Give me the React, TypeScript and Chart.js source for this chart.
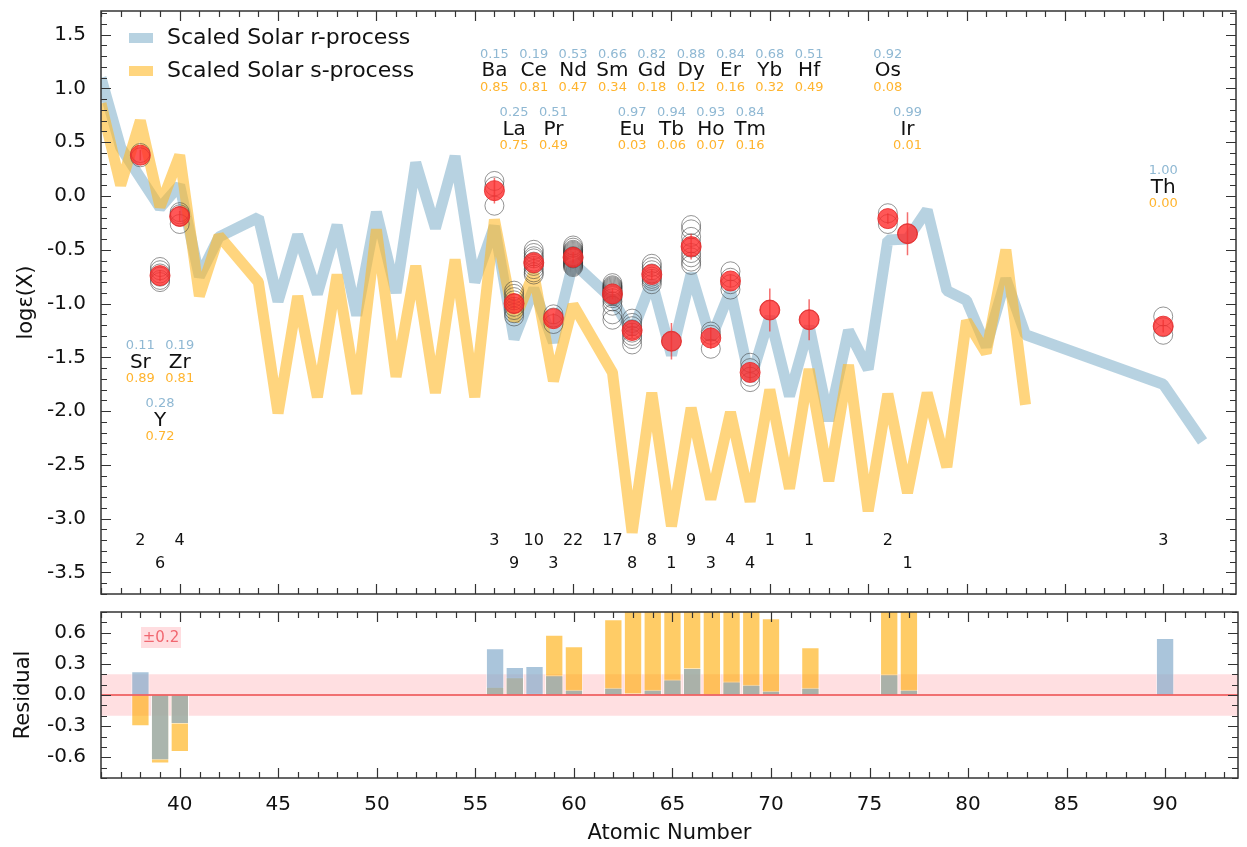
import React, { useEffect, useRef } from 'react';
import { Chart, registerables } from 'chart.js';
Chart.register(...registerables);

const FONT = "'DejaVu Sans', Verdana, sans-serif";

// ---------- data ----------
// Scaled solar r-process curve
const rZ = [36,37,38,39,40,41,42,44,45,46,47,48,49,50,51,52,53,54,55,56,57,58,59,60,62,63,64,65,66,67,68,69,70,71,72,73,74,75,76,77,78,79,80,81,82,83,90,92];
const rVal = [1.10,0.45,0.17,-0.11,0.10,-0.75,-0.38,-0.20,-0.98,-0.36,-0.91,-0.27,-1.11,-0.15,-0.90,0.31,-0.30,0.37,-0.80,-0.28,-1.33,-0.86,-1.36,-0.62,-0.96,-1.27,-0.79,-1.48,-0.72,-1.33,-0.88,-1.72,-1.12,-1.86,-1.21,-2.09,-1.25,-1.61,-0.41,-0.40,-0.13,-0.88,-0.97,-1.40,-0.77,-1.29,-1.75,-2.28];

// Scaled solar s-process curve
const sZ = [36,37,38,39,40,41,42,44,45,46,47,48,49,50,51,52,53,54,55,56,57,58,59,60,62,63,64,65,66,67,68,69,70,71,72,73,74,75,76,77,78,79,80,81,82,83];
const sVal = [0.86,0.10,0.70,-0.10,0.38,-0.93,-0.37,-0.80,-2.02,-0.93,-1.87,-0.73,-1.84,-0.31,-1.68,-0.65,-1.83,-0.59,-1.87,-0.22,-1.16,-0.72,-1.72,-1.01,-1.64,-3.13,-1.83,-3.07,-1.97,-2.82,-2.01,-2.84,-1.80,-2.72,-1.61,-2.65,-1.57,-2.93,-1.84,-2.76,-1.83,-2.52,-1.16,-1.46,-0.50,-1.94];

// Observed abundances
const elements = ['Sr','Y','Zr','Ba','La','Ce','Pr','Nd','Sm','Eu','Gd','Tb','Dy','Ho','Er','Tm','Yb','Hf','Os','Ir','Th'];
const obsZ = [38,39,40,56,57,58,59,60,62,63,64,65,66,67,68,69,70,72,76,77,90];
const obsVal = [0.38,-0.74,-0.19,0.05,-1.00,-0.62,-1.14,-0.57,-0.91,-1.25,-0.73,-1.35,-0.47,-1.32,-0.79,-1.64,-1.06,-1.15,-0.21,-0.35,-1.21];
const obsErr = [0.05,0.05,0.05,0.12,0.06,0.05,0.05,0.05,0.05,0.07,0.05,0.17,0.12,0.10,0.06,0.08,0.20,0.19,0.05,0.20,0.06];
const nLines = [2,6,4,3,9,10,3,22,17,8,8,1,9,3,4,4,1,1,2,1,3];

// Individual line abundances
const lineAbund = [
  [0.36,0.40],
  [-0.66,-0.69,-0.72,-0.75,-0.78,-0.80],
  [-0.15,-0.17,-0.19,-0.26],
  [0.14,0.09,-0.09],
  [-0.88,-0.91,-0.94,-0.97,-1.00,-1.03,-1.06,-1.09,-1.12],
  [-0.50,-0.53,-0.56,-0.58,-0.61,-0.63,-0.65,-0.68,-0.71,-0.73],
  [-1.10,-1.13,-1.19],
  [-0.46,-0.48,-0.50,-0.51,-0.52,-0.53,-0.54,-0.55,-0.56,-0.56,-0.57,-0.57,-0.58,-0.59,-0.60,-0.61,-0.62,-0.63,-0.64,-0.65,-0.66,-0.58],
  [-0.81,-0.83,-0.84,-0.85,-0.86,-0.87,-0.88,-0.89,-0.90,-0.91,-0.92,-0.93,-0.95,-0.98,-1.02,-1.10,-1.15],
  [-1.14,-1.18,-1.21,-1.24,-1.27,-1.30,-1.33,-1.38],
  [-0.63,-0.66,-0.69,-0.72,-0.75,-0.77,-0.79,-0.82],
  [-1.35],
  [-0.27,-0.31,-0.38,-0.44,-0.48,-0.53,-0.57,-0.61,-0.64],
  [-1.26,-1.29,-1.42],
  [-0.70,-0.76,-0.82,-0.87],
  [-1.55,-1.60,-1.68,-1.73],
  [-1.06],
  [-1.15],
  [-0.16,-0.26],
  [-0.35],
  [-1.12,-1.22,-1.29],
];

// r / s fractions shown above / below each element symbol
const rFrac = [0.11,0.28,0.19,0.15,0.25,0.19,0.51,0.53,0.66,0.97,0.82,0.94,0.88,0.93,0.84,0.84,0.68,0.51,0.92,0.99,1.00];
const sFrac = [0.89,0.72,0.81,0.85,0.75,0.81,0.49,0.47,0.34,0.03,0.18,0.06,0.12,0.07,0.16,0.16,0.32,0.49,0.08,0.01,0.00];
const labelY = [-1.55,-2.09,-1.55,1.16,0.62,1.16,0.62,1.16,1.16,0.62,1.16,0.62,1.16,0.62,1.16,0.62,1.16,1.16,1.16,0.62,0.08];

// Residuals (obs - model)
const resR = [0.23,-0.63,-0.28,0.45,0.27,0.28,0.19,0.05,0.07,0.02,0.05,0.15,0.26,-0.01,0.13,0.10,0.04,0.07,0.20,0.05,0.55];
const resS: (number | null)[] = [-0.30,-0.66,-0.55,0.08,0.17,0.02,0.58,0.47,0.73,1.88,1.10,1.72,1.50,1.50,1.22,1.20,0.74,0.46,1.63,2.41,null];

const countRowY = [-3.21, -3.42];

// ---------- styles ----------
const R_LINE = 'rgba(135,180,205,0.6)';
const S_LINE = 'rgba(255,185,40,0.6)';
const R_TEXT = '#8fb8d3';
const S_TEXT = '#ffb42e';
const FRAME = '#333';

const X_MIN = 36, X_MAX = 93.7;

function noPadY(width: number) {
  return (s: any) => { s.width = width; s.paddingTop = 0; s.paddingBottom = 0; };
}
function noPadX(height: number) {
  return (s: any) => { s.height = height; s.paddingLeft = 0; s.paddingRight = 0; };
}

function frameTicksPlugin(minor: number, major: number) {
  return {
    id: 'frameTicks',
    afterDatasetsDraw(chart: any) {
      const { ctx, chartArea: a, scales } = chart;
      const x = scales.x, y = scales.y;
      ctx.save();
      ctx.strokeStyle = FRAME;
      ctx.lineWidth = 1.2;
      ctx.beginPath();
      for (let v = Math.ceil(x.min); v <= x.max; v++) {
        const px = Math.round(x.getPixelForValue(v)) + 0.5;
        const len = v % 5 === 0 ? 10 : 6;
        ctx.moveTo(px, a.top); ctx.lineTo(px, a.top + len);
        ctx.moveTo(px, a.bottom); ctx.lineTo(px, a.bottom - len);
      }
      const k0 = Math.ceil(y.min / minor - 1e-6), k1 = Math.floor(y.max / minor + 1e-6);
      for (let k = k0; k <= k1; k++) {
        const v = k * minor;
        const r = v / major;
        const isMajor = Math.abs(r - Math.round(r)) < 1e-6;
        const len = isMajor ? 10 : 6;
        const py = Math.round(y.getPixelForValue(v)) + 0.5;
        ctx.moveTo(a.left, py); ctx.lineTo(a.left + len, py);
        ctx.moveTo(a.right, py); ctx.lineTo(a.right - len, py);
      }
      ctx.stroke();
      ctx.lineWidth = 1.5;
      ctx.strokeRect(a.left, a.top, a.right - a.left, a.bottom - a.top);
      ctx.restore();
    },
  };
}

const errorBarPlugin = {
  id: 'errorBars',
  afterDatasetsDraw(chart: any) {
    const { ctx, scales: { x, y } } = chart;
    ctx.save();
    ctx.strokeStyle = 'rgba(240,50,50,0.7)';
    ctx.lineWidth = 1.5;
    ctx.beginPath();
    obsZ.forEach((z, i) => {
      const px = x.getPixelForValue(z);
      ctx.moveTo(px, y.getPixelForValue(obsVal[i] + obsErr[i]));
      ctx.lineTo(px, y.getPixelForValue(obsVal[i] - obsErr[i]));
    });
    ctx.stroke();
    ctx.restore();
  },
};

const annotatePlugin = {
  id: 'annotate',
  afterDraw(chart: any) {
    const { ctx, chartArea: a, scales: { x, y } } = chart;
    ctx.save();
    ctx.textAlign = 'center';
    ctx.textBaseline = 'middle';
    // element labels
    obsZ.forEach((z, i) => {
      const px = x.getPixelForValue(z);
      const py = y.getPixelForValue(labelY[i]);
      ctx.font = `20px ${FONT}`;
      ctx.fillStyle = '#111';
      ctx.fillText(elements[i], px, py);
      ctx.font = `13px ${FONT}`;
      ctx.fillStyle = R_TEXT;
      ctx.fillText(rFrac[i].toFixed(2), px, py - 17);
      ctx.fillStyle = S_TEXT;
      ctx.fillText(sFrac[i].toFixed(2), px, py + 16);
    });
    // line counts
    ctx.font = `16px ${FONT}`;
    ctx.fillStyle = '#111';
    obsZ.forEach((z, i) => {
      const px = x.getPixelForValue(z);
      const py = y.getPixelForValue(countRowY[z % 2]);
      ctx.fillText(String(nLines[i]), px, py);
    });
    // legend
    const items = [
      { text: 'Scaled Solar r-process', color: R_LINE },
      { text: 'Scaled Solar s-process', color: S_LINE },
    ];
    ctx.textAlign = 'left';
    ctx.font = `22px ${FONT}`;
    items.forEach((it, i) => {
      const cy = a.top + 27 + i * 33;
      ctx.fillStyle = it.color;
      ctx.fillRect(a.left + 28, cy - 5, 24, 10);
      ctx.fillStyle = '#111';
      ctx.fillText(it.text, a.left + 66, cy);
    });
    ctx.restore();
  },
};

const bandPlugin = {
  id: 'band',
  beforeDatasetsDraw(chart: any) {
    const { ctx, chartArea: a, scales: { y } } = chart;
    ctx.save();
    ctx.fillStyle = 'rgba(255,120,130,0.24)';
    const t = y.getPixelForValue(0.2), b = y.getPixelForValue(-0.2);
    ctx.fillRect(a.left, t, a.right - a.left, b - t);
    ctx.restore();
  },
  afterDatasetsDraw(chart: any) {
    const { ctx, chartArea: a, scales: { y } } = chart;
    ctx.save();
    ctx.strokeStyle = 'rgba(240,100,100,0.9)';
    ctx.lineWidth = 2;
    const p = y.getPixelForValue(0);
    ctx.beginPath();
    ctx.moveTo(a.left, p); ctx.lineTo(a.right, p);
    ctx.stroke();
    // ±0.2 label
    ctx.fillStyle = 'rgba(255,120,130,0.25)';
    ctx.fillRect(a.left + 40, a.top + 15, 40, 21);
    ctx.fillStyle = 'rgba(240,90,100,0.9)';
    ctx.font = `15px ${FONT}`;
    ctx.textAlign = 'center';
    ctx.textBaseline = 'middle';
    ctx.fillText('±0.2', a.left + 60, a.top + 26);
    ctx.restore();
  },
};

function mainConfig(): any {
  const indiv = obsZ.flatMap((z, i) => lineAbund[i].map((v) => ({ x: z, y: v })));
  return {
    type: 'scatter',
    data: {
      datasets: [
        {
          label: 'mean',
          data: obsZ.map((z, i) => ({ x: z, y: obsVal[i] })),
          pointRadius: 10,
          pointBackgroundColor: 'rgba(255,45,45,0.8)',
          pointBorderColor: 'rgba(230,40,40,0.85)',
          pointBorderWidth: 1,
          order: 0,
        },
        {
          label: 'lines',
          data: indiv,
          pointRadius: 9.5,
          pointBackgroundColor: 'rgba(0,0,0,0)',
          pointBorderColor: 'rgba(60,60,60,0.55)',
          pointBorderWidth: 1,
          order: 1,
        },
        {
          label: 'Scaled Solar s-process',
          data: sZ.map((z, i) => ({ x: z, y: sVal[i] })),
          showLine: true,
          borderColor: S_LINE,
          borderWidth: 11,
          borderJoinStyle: 'bevel',
          pointRadius: 0,
          order: 2,
        },
        {
          label: 'Scaled Solar r-process',
          data: rZ.map((z, i) => ({ x: z, y: rVal[i] })),
          showLine: true,
          borderColor: R_LINE,
          borderWidth: 11,
          borderJoinStyle: 'bevel',
          pointRadius: 0,
          order: 3,
        },
      ],
    },
    options: {
      responsive: false,
      animation: false,
      events: [],
      layout: { padding: { left: 0, right: 9, top: 7, bottom: 7 } },
      plugins: { legend: { display: false }, tooltip: { enabled: false } },
      scales: {
        x: {
          type: 'linear', min: X_MIN, max: X_MAX,
          grid: { display: false, drawTicks: false },
          border: { display: false },
          ticks: { display: false },
          afterFit: noPadX(0),
        },
        y: {
          type: 'linear', min: -3.7, max: 1.72,
          grid: { display: false, drawTicks: false },
          border: { display: false },
          ticks: {
            stepSize: 0.5, includeBounds: false, padding: 15, color: '#111',
            font: { size: 20, family: FONT },
            callback: (v: any) => Number(v).toFixed(1),
          },
          title: { display: true, text: 'logε(X)', color: '#111', font: { size: 21, family: FONT }, padding: { top: 14, bottom: 0 } },
          afterFit: noPadY(101),
        },
      },
    },
    plugins: [frameTicksPlugin(0.1, 0.5), errorBarPlugin, annotatePlugin],
  };
}

function resConfig(): any {
  return {
    type: 'bar',
    data: {
      datasets: [
        {
          label: 'r residual',
          data: obsZ.map((z, i) => ({ x: z, y: resR[i] })),
          backgroundColor: 'rgba(134,172,204,0.7)',
          borderColor: 'rgba(255,255,255,0.5)',
          borderWidth: 1,
          grouped: false,
          barPercentage: 0.93,
          categoryPercentage: 1,
          order: 0,
        },
        {
          label: 's residual',
          data: obsZ.map((z, i) => ({ x: z, y: resS[i] })),
          backgroundColor: 'rgba(255,170,0,0.6)',
          borderColor: 'rgba(255,255,255,0.5)',
          borderWidth: 1,
          grouped: false,
          barPercentage: 0.93,
          categoryPercentage: 1,
          order: 1,
        },
      ],
    },
    options: {
      responsive: false,
      animation: false,
      events: [],
      layout: { padding: { left: 0, right: 9, top: 7, bottom: 0 } },
      plugins: { legend: { display: false }, tooltip: { enabled: false } },
      scales: {
        x: {
          type: 'linear', min: X_MIN, max: X_MAX, offset: false,
          grid: { display: false, drawTicks: false, offset: false },
          border: { display: false },
          ticks: { stepSize: 5, includeBounds: false, padding: 15, color: '#111', font: { size: 20, family: FONT } },
          title: { display: true, text: 'Atomic Number', color: '#111', font: { size: 21, family: FONT }, padding: { top: 0, bottom: 1 } },
          afterFit: noPadX(69),
        },
        y: {
          type: 'linear', min: -0.8, max: 0.8,
          grid: { display: false, drawTicks: false },
          border: { display: false },
          ticks: {
            stepSize: 0.3, includeBounds: false, padding: 15, color: '#111',
            font: { size: 20, family: FONT },
            callback: (v: any) => Number(v).toFixed(1),
          },
          title: { display: true, text: 'Residual', color: '#111', font: { size: 21, family: FONT }, padding: { top: 11, bottom: 0 } },
          afterFit: noPadY(101),
        },
      },
    },
    plugins: [bandPlugin, frameTicksPlugin(0.1, 0.3)],
  };
}

export default function App() {
  const mainRef = useRef<HTMLCanvasElement>(null);
  const resRef = useRef<HTMLCanvasElement>(null);
  useEffect(() => {
    Chart.defaults.font.family = FONT;
    const c1 = new Chart(mainRef.current as HTMLCanvasElement, mainConfig());
    const c2 = new Chart(resRef.current as HTMLCanvasElement, resConfig());
    return () => { c1.destroy(); c2.destroy(); };
  }, []);
  return (
    <div style={{ position: 'absolute', left: 0, top: 0, width: 1247, height: 847, background: '#fff' }}>
      <canvas ref={mainRef} width={1247} height={605}
        style={{ position: 'absolute', left: 0, top: 0, width: 1247, height: 605, display: 'block' }} />
      <canvas ref={resRef} width={1247} height={242}
        style={{ position: 'absolute', left: 0, top: 605, width: 1247, height: 242, display: 'block' }} />
    </div>
  );
}
